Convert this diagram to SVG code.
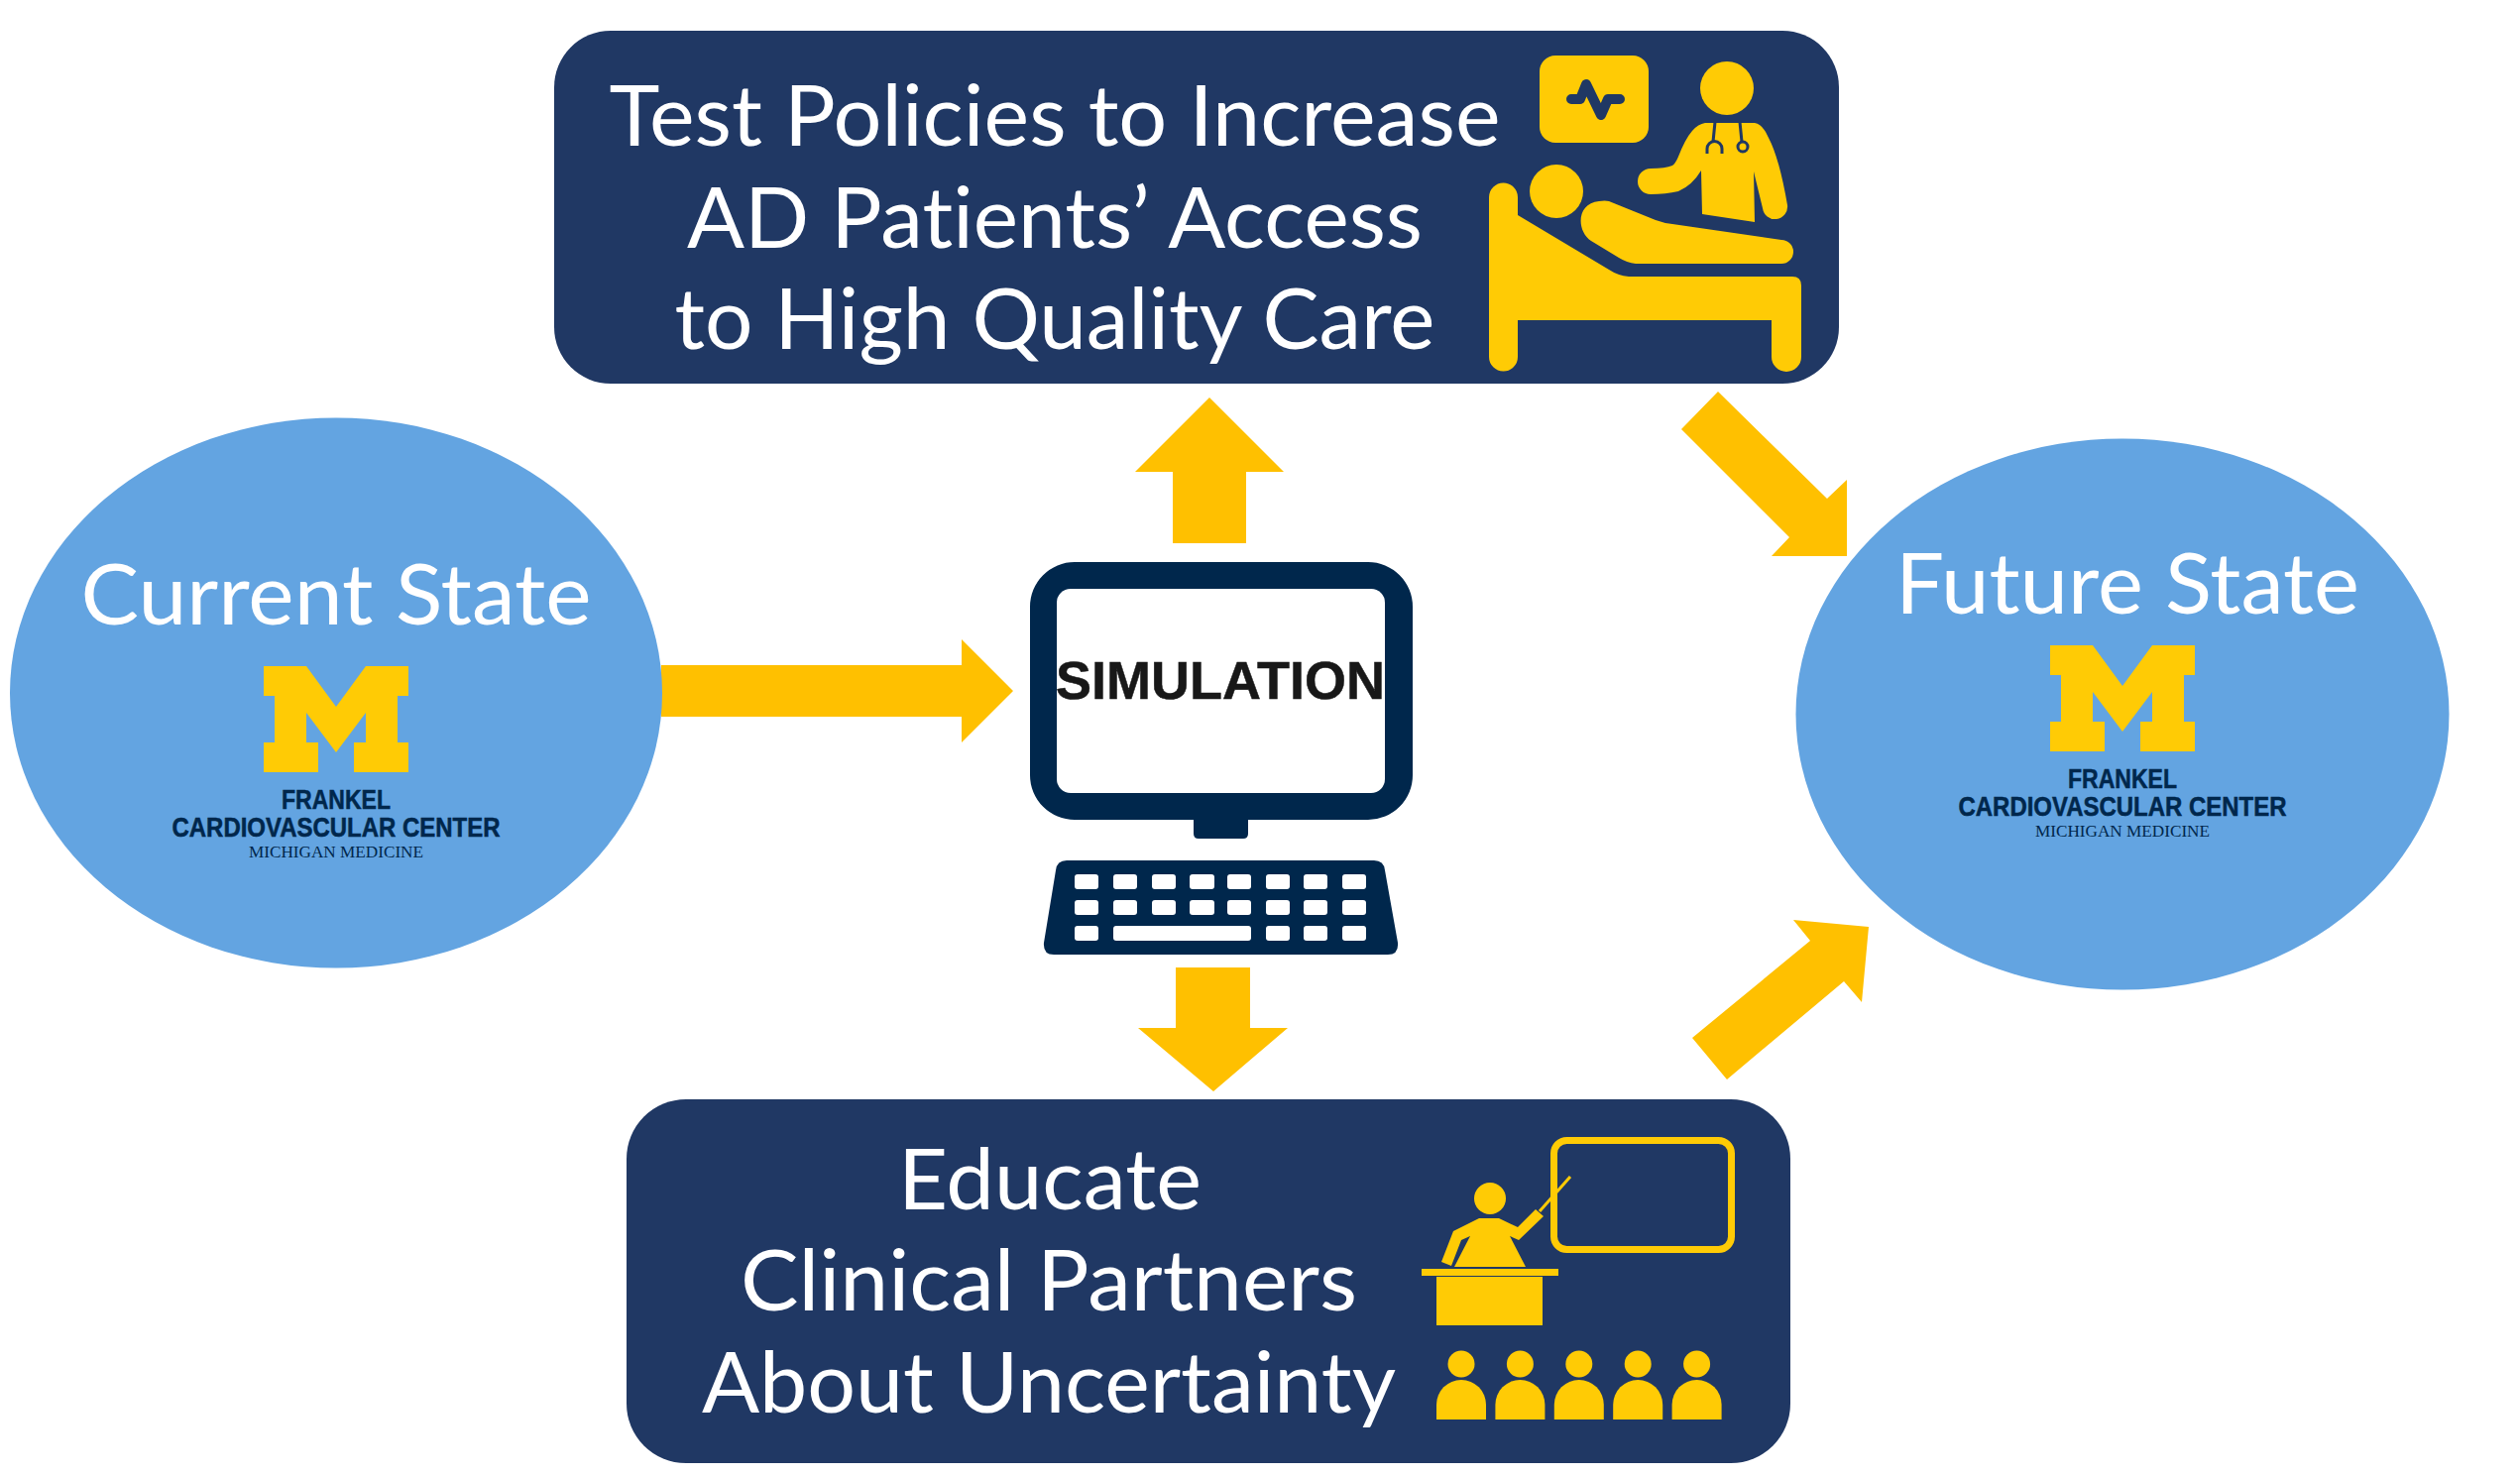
<svg xmlns="http://www.w3.org/2000/svg" width="2542" height="1489" viewBox="0 0 2542 1489">
<style>
.n{fill:#203864}.e{fill:#63a4e1}.y{fill:#ffcb05}.a{fill:#ffc000}.d{fill:#00274c}
.t{font-family:Lato,"Noto Sans",sans-serif;fill:#fff;text-anchor:middle;font-size:86px;font-variant-ligatures:none}
.f{font-family:"Liberation Sans",sans-serif;font-weight:700;fill:#00274c;stroke:#00274c;stroke-width:.5;text-anchor:middle;font-size:27px}
.m{font-family:"Liberation Serif",serif;fill:#00274c;text-anchor:middle;font-size:16px}
.s{font-family:"Liberation Sans",sans-serif;font-weight:700;fill:#181818;stroke:#181818;stroke-width:.5;text-anchor:middle;font-size:53px}
.k{fill:#fff}
.c{fill:none;stroke:#203864;stroke-width:3}
</style>
<defs>
<g id="logo">
<path class="y" d="M0 0H43L73 41L103 0H146V30H135V77H146V107H91V77H103V47L73 87L43 47V77H55V107H0V77H11V30H0Z"/>
<text class="f" x="73" y="144" textLength="110" lengthAdjust="spacingAndGlyphs">FRANKEL</text>
<text class="f" x="73" y="172" textLength="331" lengthAdjust="spacingAndGlyphs">CARDIOVASCULAR CENTER</text>
<text class="m" x="73" y="193" textLength="176" lengthAdjust="spacingAndGlyphs">MICHIGAN MEDICINE</text>
</g>
<g id="pupil" class="y">
<circle cx="25" cy="13" r="13.500"/>
<path d="M0 69V54A25 25 0 0 1 50 54V69Z"/>
</g>
</defs>
<g id="connectors">
<path class="a" d="M667 671H970V645L1022 697L970 749V723H667Z"/>
<path class="a" d="M1183 548V476H1145L1220 401L1295 476H1257V548Z"/>
<path class="a" d="M1186 976H1261V1037H1299L1224 1101L1148 1037H1186Z"/>
<path class="a" d="M1733 395L1696 433L1805 542L1787 561H1863V484L1843 503Z"/>
<path class="a" d="M1707 1047L1742 1089L1860 990L1878 1011L1885 935L1809 928L1826 949Z"/>
</g>
<g id="test-policies">
<rect class="n" x="559" y="31" width="1296" height="356" rx="57"/>
<text class="t" x="1064" y="147" textLength="899" lengthAdjust="spacingAndGlyphs">Test Policies to Increase</text>
<text class="t" x="1064" y="250" textLength="742" lengthAdjust="spacingAndGlyphs">AD Patients’ Access</text>
<text class="t" x="1064" y="352" textLength="767" lengthAdjust="spacingAndGlyphs">to High Quality Care</text>
<g class="y">
<rect x="1553" y="56" width="110" height="88" rx="16"/>
<circle cx="1742" cy="89" r="27"/>
<circle cx="1570" cy="193" r="27"/>
<path d="M1720 124H1770Q1778 125 1784 139Q1795 160 1803 207A12.500 12.500 0 0 1 1778 210L1769 173L1770 224L1717 216L1716 172Q1707 187 1693 193Q1680 196 1665 196A13 13 0 0 1 1665 170Q1680 170 1687 167Q1690 165 1693 158Q1700 140 1707 132Q1713 125 1720 124Z"/>
<path d="M1623 203L1670 222Q1678 225 1687 226L1797 242A12 12 0 0 1 1797 266H1650Q1641 265 1633 260L1605 243C1590 233 1590 205 1613 203Q1619 202 1623 203Z"/>
<path d="M1502 199A14.500 14.500 0 0 1 1531 199V217L1623 272Q1632 278 1643 279H1808Q1817 279 1817 288V360A15 15 0 0 1 1787 360V323H1531V360A14.500 14.500 0 0 1 1502 360Z"/>
</g>
<path d="M1585 100H1594L1600 85L1615 116L1622 100H1634" fill="none" stroke="#203864" stroke-width="10" stroke-linecap="round" stroke-linejoin="round"/>
<path class="c" d="M1730 123L1728 143M1755 123L1757 143"/>
<circle class="c" cx="1758" cy="148" r="5"/>
<path class="c" d="M1722 155V150A7.500 7.500 0 0 1 1737 150V155"/>
</g>
<g id="current-state">
<ellipse class="e" cx="339" cy="699" rx="329" ry="277.500"/>
<text class="t" x="339" y="630" textLength="515" lengthAdjust="spacingAndGlyphs">Current State</text>
<use href="#logo" x="266" y="672"/>
</g>
<g id="future-state">
<ellipse class="e" cx="2141" cy="720.500" rx="329.500" ry="278"/>
<text class="t" x="2146" y="619" textLength="468" lengthAdjust="spacingAndGlyphs">Future State</text>
<use href="#logo" x="2068" y="651"/>
</g>
<g id="simulation">
<path class="d" d="M1084 567H1380A45 45 0 0 1 1425 612V782A45 45 0 0 1 1380 827H1259V841Q1259 846 1254 846H1209Q1204 846 1204 841V827H1084A45 45 0 0 1 1039 782V612A45 45 0 0 1 1084 567Z"/>
<rect class="k" x="1066" y="594" width="331" height="206" rx="14"/>
<text class="s" x="1231" y="705" textLength="332" lengthAdjust="spacingAndGlyphs">SIMULATION</text>
<path class="d" d="M1076 868H1386Q1396 868 1397 878L1410 951Q1411 963 1400 963H1063Q1052 963 1053 951L1065 878Q1066 868 1076 868Z"/>
<g class="k">
<rect x="1084" y="882" width="24" height="15" rx="3"/><rect x="1123" y="882" width="24" height="15" rx="3"/><rect x="1162" y="882" width="24" height="15" rx="3"/><rect x="1200" y="882" width="25" height="15" rx="3"/><rect x="1238" y="882" width="24" height="15" rx="3"/><rect x="1277" y="882" width="24" height="15" rx="3"/><rect x="1315" y="882" width="24" height="15" rx="3"/><rect x="1354" y="882" width="24" height="15" rx="3"/>
<rect x="1084" y="908" width="24" height="15" rx="3"/><rect x="1123" y="908" width="24" height="15" rx="3"/><rect x="1162" y="908" width="24" height="15" rx="3"/><rect x="1200" y="908" width="25" height="15" rx="3"/><rect x="1238" y="908" width="24" height="15" rx="3"/><rect x="1277" y="908" width="24" height="15" rx="3"/><rect x="1315" y="908" width="24" height="15" rx="3"/><rect x="1354" y="908" width="24" height="15" rx="3"/>
<rect x="1084" y="934" width="24" height="15" rx="3"/><rect x="1123" y="934" width="139" height="15" rx="3"/><rect x="1277" y="934" width="24" height="15" rx="3"/><rect x="1315" y="934" width="24" height="15" rx="3"/><rect x="1354" y="934" width="24" height="15" rx="3"/>
</g>
</g>
<g id="educate">
<rect class="n" x="632" y="1109" width="1174" height="367" rx="60"/>
<text class="t" x="1059" y="1220" textLength="306" lengthAdjust="spacingAndGlyphs">Educate</text>
<text class="t" x="1058" y="1322" textLength="622" lengthAdjust="spacingAndGlyphs">Clinical Partners</text>
<text class="t" x="1058" y="1425" textLength="700" lengthAdjust="spacingAndGlyphs">About Uncertainty</text>
<rect x="1567.500" y="1150.500" width="179" height="110" rx="13" fill="none" stroke="#ffcb05" stroke-width="7"/>
<g class="y">
<circle cx="1503" cy="1209" r="16"/>
<path d="M1492 1229H1512L1531 1238L1549 1220L1557 1227L1532 1251L1523 1247L1539 1278H1467L1483 1247L1474 1251L1464 1277L1454 1273L1466 1242Z"/>
<rect x="1434" y="1280" width="138" height="7"/>
<rect x="1449" y="1288" width="107" height="49"/>
</g>
<path d="M1553 1222L1584 1187" stroke="#ffcb05" stroke-width="3" fill="none"/>
<use href="#pupil" x="1449" y="1363"/><use href="#pupil" x="1508.400" y="1363"/><use href="#pupil" x="1567.800" y="1363"/><use href="#pupil" x="1627.200" y="1363"/><use href="#pupil" x="1686.600" y="1363"/>
</g>
</svg>
